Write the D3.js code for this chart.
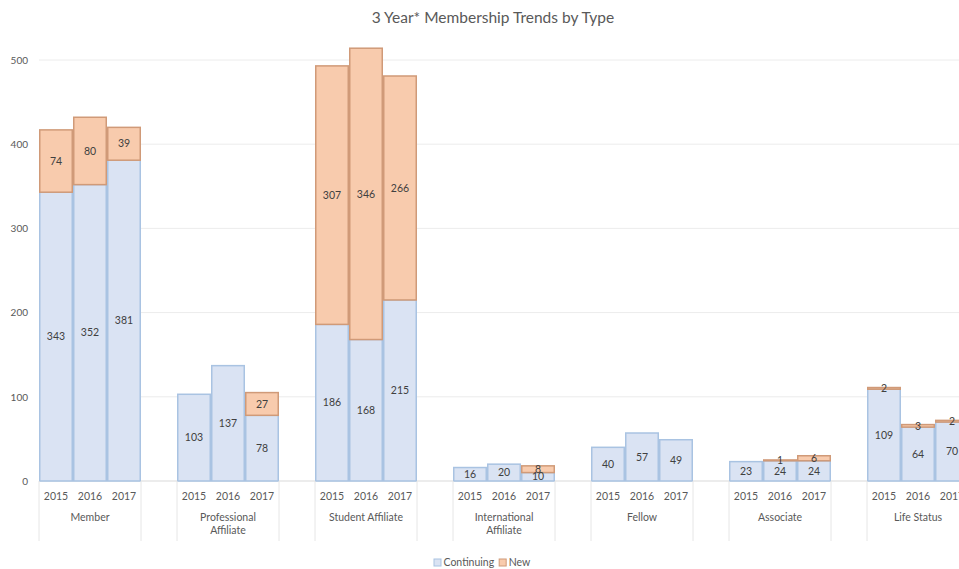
<!DOCTYPE html>
<html>
<head>
<meta charset="utf-8">
<script src="https://cdn.jsdelivr.net/npm/d3@7"></script>
<style>
  html, body { margin: 0; padding: 0; background: #fff; overflow: hidden; }
  svg { display: block; font-family: Lato, "Open Sans", sans-serif; }
</style>
</head>
<body>
<svg id="chart" width="959" height="569"></svg>
<script>
// Membership counts by type and year
const categories = ["Member", "Professional\nAffiliate", "Student Affiliate", "International\nAffiliate", "Fellow", "Associate", "Life Status"];
const years = ["2015", "2016", "2017"];
const continuing = [
  [343, 352, 381],
  [103, 137, 78],
  [186, 168, 215],
  [16, 20, 10],
  [40, 57, 49],
  [23, 24, 24],
  [109, 64, 70]
];
const newMembers = [
  [74, 80, 39],
  [0, 0, 27],
  [307, 346, 266],
  [0, 0, 8],
  [0, 0, 0],
  [0, 1, 6],
  [2, 3, 2]
];
const yTicks = [0, 100, 200, 300, 400, 500];
const seriesNames = ["Continuing", "New"];

const colors = {
  Continuing: { fill: "#dae3f3", stroke: "#a9c3e2" },
  New: { fill: "#f8cbad", stroke: "#d09a78" }
};

const svg = d3.select("#chart");
const W = 959, H = 569;

const x = d3.scaleBand().domain(categories).range([21, 987]);
const xi = d3.scaleBand().domain(years).range([18, 120]).padding(0);
const y = d3.scaleLinear().domain([0, 500]).range([481, 60]);

// Title
svg.append("text")
  .attr("x", 493).attr("y", 23)
  .attr("text-anchor", "middle")
  .attr("font-size", 15.5)
  .attr("fill", "#595959")
  .text("3 Year* Membership Trends by Type");

// Gridlines
svg.append("g")
  .selectAll("line")
  .data(yTicks)
  .join("line")
  .attr("x1", 39).attr("x2", W)
  .attr("y1", d => y(d)).attr("y2", d => y(d))
  .attr("stroke", d => d === 0 ? "#d9d9d9" : "#ececec")
  .attr("stroke-width", 1);

// Y axis labels
const yAxis = d3.axisLeft(y).tickValues(yTicks).tickSize(0).tickPadding(0);
svg.append("g")
  .attr("transform", "translate(28,0)")
  .call(yAxis)
  .call(g => g.select(".domain").remove())
  .call(g => g.selectAll("text")
    .attr("font-family", "Lato, sans-serif")
    .attr("font-size", 10)
    .attr("fill", "#595959"));

// Build stacked records
const rows = [];
categories.forEach((c, ci) => {
  years.forEach((yr, yi) => {
    const cv = continuing[ci][yi], nv = newMembers[ci][yi];
    rows.push({ cat: c, year: yr, series: "Continuing", y0: 0, y1: cv, v: cv });
    rows.push({ cat: c, year: yr, series: "New", y0: cv, y1: cv + nv, v: nv });
  });
});

const barX = d => x(d.cat) + xi(d.year);

// Bars
svg.append("g")
  .selectAll("rect")
  .data(rows.filter(d => d.v > 0))
  .join("rect")
  .attr("x", d => barX(d) + 0.75)
  .attr("width", xi.bandwidth() - 1.5)
  .attr("y", d => y(d.y1))
  .attr("height", d => y(d.y0) - y(d.y1))
  .attr("fill", d => colors[d.series].fill)
  .attr("stroke", d => colors[d.series].stroke)
  .attr("stroke-width", 1.5);

// Value labels
svg.append("g")
  .selectAll("text")
  .data(rows.filter(d => d.v > 0))
  .join("text")
  .attr("x", d => barX(d) + xi.bandwidth() / 2)
  .attr("y", d => (y(d.y0) + y(d.y1)) / 2)
  .attr("dy", "0.35em")
  .attr("text-anchor", "middle")
  .attr("font-size", 10.5)
  .attr("fill", "#404040")
  .text(d => d.v);

// Category axis: years, group names, separators
const axisG = svg.append("g");
categories.forEach(c => {
  const left = x(c) + 18, right = x(c) + 120;
  [left, right].forEach(px => {
    axisG.append("line")
      .attr("x1", px).attr("x2", px)
      .attr("y1", 481).attr("y2", 541)
      .attr("stroke", "#e6e6e6");
  });
  years.forEach(yr => {
    axisG.append("text")
      .attr("x", x(c) + xi(yr) + xi.bandwidth() / 2)
      .attr("y", 500)
      .attr("text-anchor", "middle")
      .attr("font-size", 10.5)
      .attr("fill", "#595959")
      .text(yr);
  });
  const lines = c.split("\n");
  lines.forEach((ln, i) => {
    axisG.append("text")
      .attr("x", x(c) + 69)
      .attr("y", 521 + i * 13)
      .attr("text-anchor", "middle")
      .attr("font-size", 10.5)
      .attr("fill", "#595959")
      .text(ln);
  });
});

// Legend
const legend = svg.append("g").attr("transform", "translate(434,566)");
let lx = 0;
seriesNames.forEach(s => {
  const g = legend.append("g").attr("transform", `translate(${lx},0)`);
  g.append("rect")
    .attr("x", 0).attr("y", -7)
    .attr("width", 7).attr("height", 7)
    .attr("fill", colors[s].fill)
    .attr("stroke", colors[s].stroke);
  const t = g.append("text")
    .attr("x", 9.5).attr("y", 0)
    .attr("font-size", 10.5)
    .attr("fill", "#595959")
    .text(s);
  lx += 9.5 + t.node().getComputedTextLength() + 5;
});
</script>
</body>
</html>
